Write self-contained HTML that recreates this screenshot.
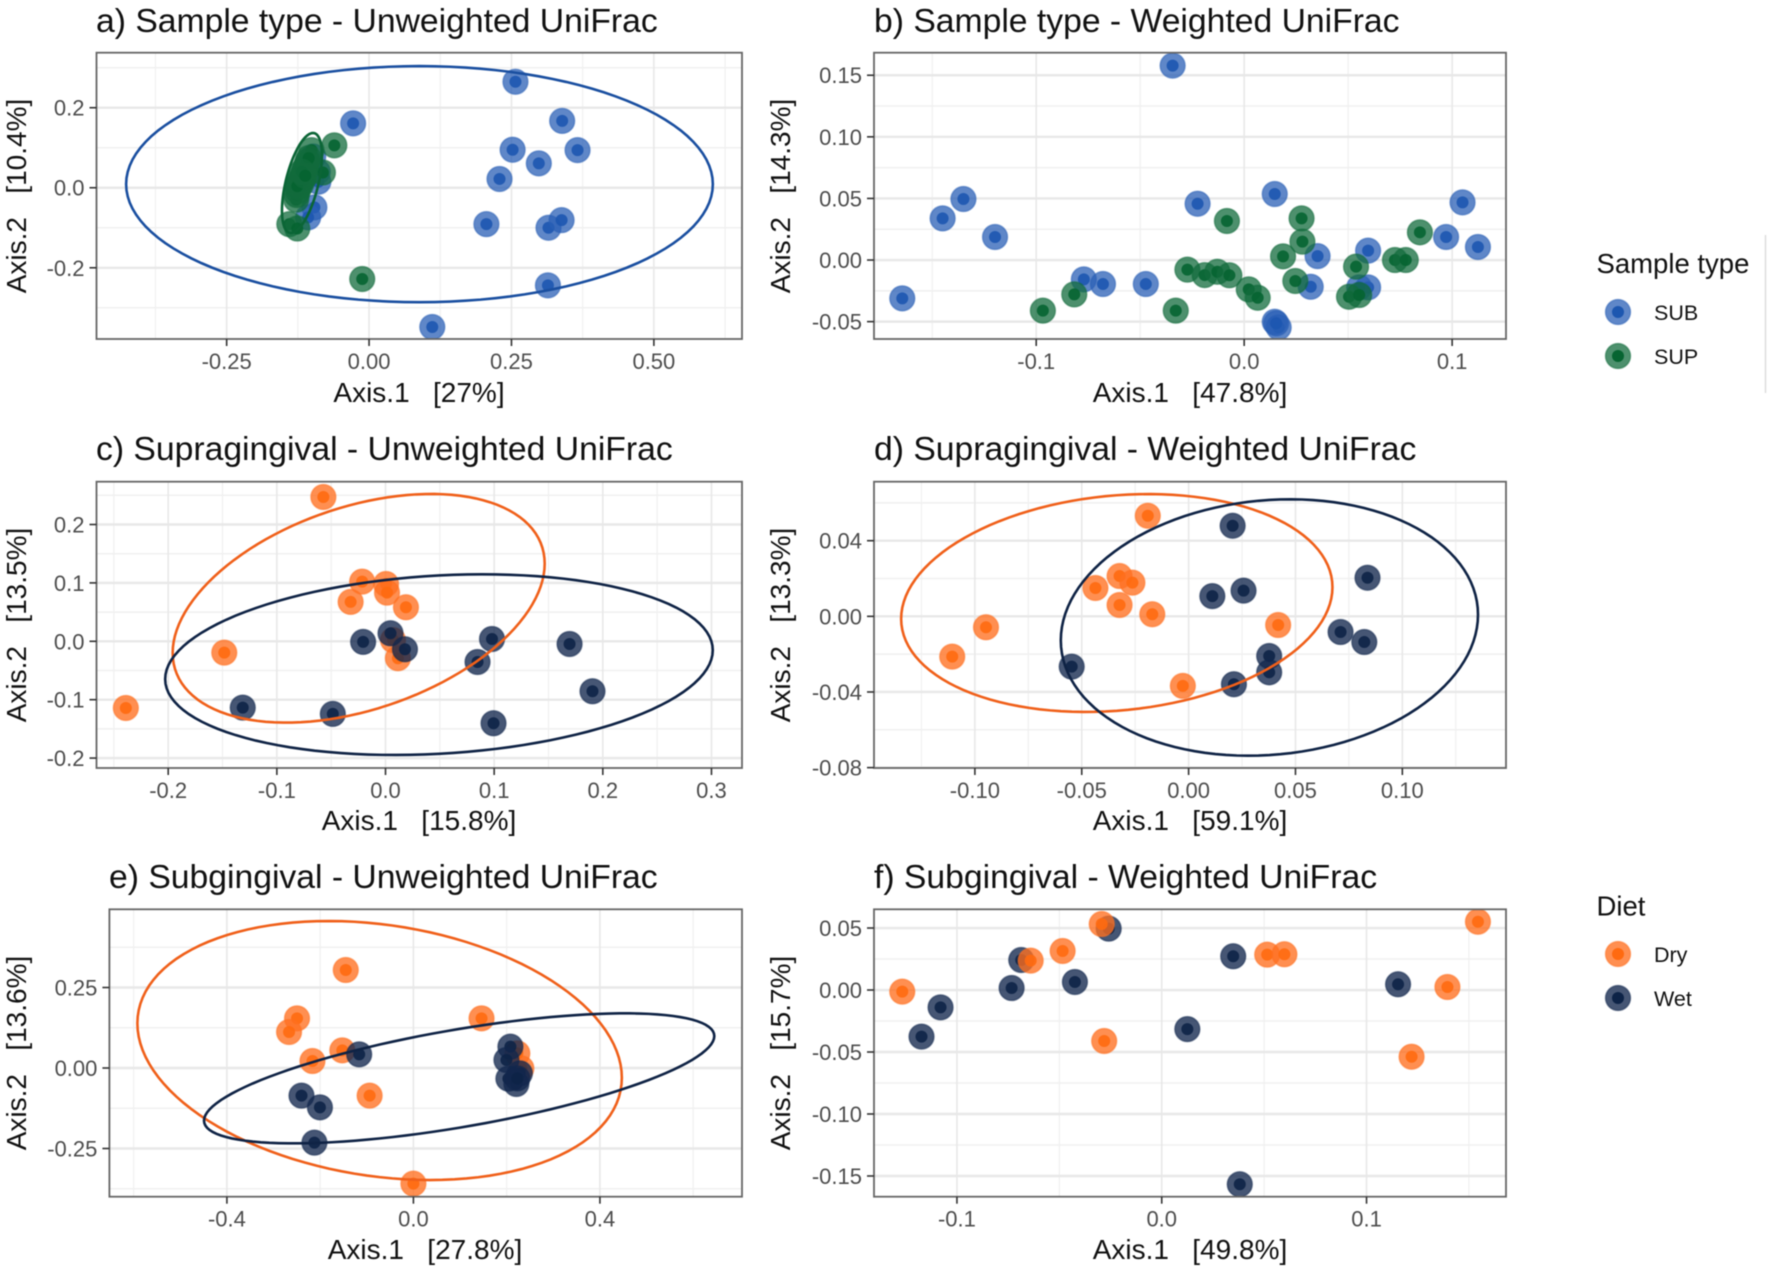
<!DOCTYPE html>
<html lang="en">
<head>
<meta charset="utf-8">
<title>Unweighted and Weighted UniFrac ordinations by sample type and diet</title>
<style>
  html, body { margin: 0; padding: 0; background: #fff; }
  body { width: 1772px; height: 1270px; overflow: hidden; }
  svg { display: block; filter: blur(0.65px); font-family: "Liberation Sans", Arial, sans-serif; }
  text { white-space: pre; }
  .title { font-size: 33.7px; fill: #111; }
  .axis-title { font-size: 28px; fill: #111; text-anchor: middle; }
  .tick-label { font-size: 22px; fill: #4d4d4d; }
  .legend-title { font-size: 27.5px; fill: #111; }
  .legend-label { font-size: 21.5px; fill: #111; }
</style>
</head>
<body>
<svg id="chart" xmlns="http://www.w3.org/2000/svg" width="1772" height="1270" viewBox="0 0 1772 1270">
  <rect x="0" y="0" width="1772" height="1270" fill="#ffffff"/>

  <g id="panels"></g>

  <text class="title" x="96" y="32">a) Sample type - Unweighted UniFrac</text>
  <text class="title" x="874" y="32">b) Sample type - Weighted UniFrac</text>
  <text class="title" x="96" y="460">c) Supragingival - Unweighted UniFrac</text>
  <text class="title" x="874" y="460">d) Supragingival - Weighted UniFrac</text>
  <text class="title" x="109" y="888">e) Subgingival - Unweighted UniFrac</text>
  <text class="title" x="874" y="888">f) Subgingival - Weighted UniFrac</text>

  <text class="axis-title" x="419" y="402">Axis.1   [27%]</text>
  <text class="axis-title" x="1190" y="402">Axis.1   [47.8%]</text>
  <text class="axis-title" x="419" y="830">Axis.1   [15.8%]</text>
  <text class="axis-title" x="1190" y="830">Axis.1   [59.1%]</text>
  <text class="axis-title" x="425" y="1259">Axis.1   [27.8%]</text>
  <text class="axis-title" x="1190" y="1259">Axis.1   [49.8%]</text>

  <text class="axis-title" transform="translate(26 196) rotate(-90)">Axis.2   [10.4%]</text>
  <text class="axis-title" transform="translate(790 196) rotate(-90)">Axis.2   [14.3%]</text>
  <text class="axis-title" transform="translate(26 625) rotate(-90)">Axis.2   [13.5%]</text>
  <text class="axis-title" transform="translate(790 625) rotate(-90)">Axis.2   [13.3%]</text>
  <text class="axis-title" transform="translate(26 1053) rotate(-90)">Axis.2   [13.6%]</text>
  <text class="axis-title" transform="translate(790 1053) rotate(-90)">Axis.2   [15.7%]</text>

  <g>
    <text class="legend-title" x="1596.5" y="273">Sample type</text>
    <g>
      <circle cx="1618" cy="312" r="12.5" fill="#2a5fb5" fill-opacity="0.75" stroke="#2a5fb5" stroke-opacity="0.5" stroke-width="1.5"/>
      <circle cx="1618" cy="312" r="6" fill="#1d57b0"/>
      <text class="legend-label" x="1654" y="320">SUB</text>
    </g>
    <g>
      <circle cx="1618" cy="356" r="12.5" fill="#116b3c" fill-opacity="0.75" stroke="#116b3c" stroke-opacity="0.5" stroke-width="1.5"/>
      <circle cx="1618" cy="356" r="6" fill="#066431"/>
      <text class="legend-label" x="1654" y="364">SUP</text>
    </g>
  </g>
  <line x1="1765.5" y1="235" x2="1765.5" y2="393" stroke="#dddddd" stroke-width="1.5"/>

  <g>
    <text class="legend-title" x="1596.5" y="915.5">Diet</text>
    <g>
      <circle cx="1618" cy="954" r="12.5" fill="#ff7020" fill-opacity="0.78" stroke="#ff7020" stroke-opacity="0.5" stroke-width="1.5"/>
      <circle cx="1618" cy="954" r="6" fill="#ff6a10"/>
      <text class="legend-label" x="1654" y="962">Dry</text>
    </g>
    <g>
      <circle cx="1618" cy="998" r="12.5" fill="#12274d" fill-opacity="0.78" stroke="#12274d" stroke-opacity="0.5" stroke-width="1.5"/>
      <circle cx="1618" cy="998" r="6" fill="#0d2347"/>
      <text class="legend-label" x="1654" y="1006">Wet</text>
    </g>
  </g>
</svg>

<script>
// ---------- tick values and labels ----------
const aXTicks = [-0.25, 0, 0.25, 0.5];
const aXLabels = ['-0.25', '0.00', '0.25', '0.50'];
const aYTicks = [-0.2, 0, 0.2];
const aYLabels = ['-0.2', '0.0', '0.2'];
const bXTicks = [-0.1, 0, 0.1];
const bXLabels = ['-0.1', '0.0', '0.1'];
const bYTicks = [-0.05, 0, 0.05, 0.1, 0.15];
const bYLabels = ['-0.05', '0.00', '0.05', '0.10', '0.15'];
const cXTicks = [-0.2, -0.1, 0, 0.1, 0.2, 0.3];
const cXLabels = ['-0.2', '-0.1', '0.0', '0.1', '0.2', '0.3'];
const cYTicks = [-0.2, -0.1, 0, 0.1, 0.2];
const cYLabels = ['-0.2', '-0.1', '0.0', '0.1', '0.2'];
const dXTicks = [-0.1, -0.05, 0, 0.05, 0.1];
const dXLabels = ['-0.10', '-0.05', '0.00', '0.05', '0.10'];
const dYTicks = [-0.08, -0.04, 0, 0.04];
const dYLabels = ['-0.08', '-0.04', '0.00', '0.04'];
const eXTicks = [-0.4, 0, 0.4];
const eXLabels = ['-0.4', '0.0', '0.4'];
const eYTicks = [-0.25, 0, 0.25];
const eYLabels = ['-0.25', '0.00', '0.25'];
const fXTicks = [-0.1, 0, 0.1];
const fXLabels = ['-0.1', '0.0', '0.1'];
const fYTicks = [-0.15, -0.1, -0.05, 0, 0.05];
const fYLabels = ['-0.15', '-0.10', '-0.05', '0.00', '0.05'];

// ---------- panel a: sample type, unweighted ----------
const aSubX = [-0.028, 0.257, 0.339, 0.252, 0.366, 0.298, 0.229, 0.206, 0.315, 0.338, 0.314, 0.111, -0.098, -0.089, -0.096, -0.107, -0.09];
const aSubY = [0.161, 0.265, 0.167, 0.095, 0.094, 0.061, 0.022, -0.091, -0.1, -0.081, -0.244, -0.348, 0.078, 0.015, -0.049, -0.074, 0.04];
const aSupX = [-0.101, -0.081, -0.14, -0.126, -0.061, -0.012, -0.128, -0.127, -0.125, -0.124, -0.122, -0.12, -0.118, -0.116, -0.114, -0.112, -0.11, -0.108, -0.106, -0.124, -0.12, -0.116, -0.126, -0.118, -0.112];
const aSupY = [0.094, 0.038, -0.091, -0.102, 0.106, -0.228, -0.03, -0.018, -0.008, 0.002, 0.01, 0.018, 0.026, 0.034, 0.042, 0.05, 0.058, 0.066, 0.074, 0.014, 0.006, 0.02, 0.004, 0.04, 0.03];
const aSubEllipse = [0.0885, 0.009, 0.515, 0.295, 0];
const aSupEllipse = [-0.1178, 0.0118, 0.0351, 0.125, 0.55];

// ---------- panel b: sample type, weighted ----------
const bSubX = [-0.0344, -0.1644, -0.145, -0.135, -0.1198, -0.0771, -0.0679, -0.0473, -0.0224, 0.0147, 0.032, 0.0353, 0.0596, 0.0596, 0.0553, 0.0971, 0.105, 0.1124, 0.0147, 0.0166, 0.0154];
const bSubY = [0.1578, -0.0311, 0.0338, 0.0495, 0.0187, -0.0157, -0.0195, -0.0195, 0.0457, 0.0536, -0.0217, 0.0032, 0.0076, -0.0222, -0.0222, 0.0187, 0.0468, 0.0106, -0.0501, -0.0547, -0.0514];
const bSupX = [-0.0968, -0.0817, -0.0329, -0.0273, -0.019, -0.0129, -0.0071, -0.0083, 0.0022, 0.0065, 0.0187, 0.0246, 0.028, 0.0276, 0.0538, 0.0504, 0.0553, 0.0725, 0.0777, 0.0845];
const bSupY = [-0.0411, -0.0279, -0.0411, -0.0078, -0.0122, -0.0095, -0.0124, 0.0317, -0.0238, -0.0306, 0.003, -0.017, 0.0149, 0.0338, -0.0054, -0.0298, -0.0284, 0, 0, 0.0225];

// ---------- panel c: supragingival, unweighted ----------
const cDryX = [-0.0572, -0.239, -0.1484, -0.0215, 0.0005, 0.0014, -0.0321, 0.0188, 0.0069, 0.0114];
const cDryY = [0.2471, -0.1142, -0.0194, 0.1022, 0.0982, 0.0833, 0.0674, 0.0582, 0.002, -0.029];
const cWetX = [-0.1314, -0.0485, -0.0206, 0.0046, 0.0179, 0.0847, 0.098, 0.0994, 0.1694, 0.1905];
const cWetY = [-0.1136, -0.1244, -0.0011, 0.0137, -0.0137, -0.0354, 0.004, -0.1404, -0.0046, -0.0856];
const cDryEllipse = [-0.0247, 0.0565, 0.1712, 0.1958, 0.39];
const cWetEllipse = [0.0492, -0.04, 0.252, 0.1547, 0.16];

// ---------- panel d: supragingival, weighted ----------
const dDryX = [-0.0191, -0.0948, -0.1106, -0.0436, -0.0323, -0.0263, -0.0323, -0.017, 0.0419, -0.0027];
const dDryY = [0.0532, -0.0058, -0.0213, 0.015, 0.0213, 0.0178, 0.006, 0.0011, -0.0046, -0.0368];
const dWetX = [0.0206, 0.0111, 0.0257, 0.0837, 0.0711, 0.0822, 0.0377, 0.0377, 0.0212, -0.0547];
const dWetY = [0.0479, 0.0107, 0.0136, 0.0204, -0.0083, -0.0136, -0.021, -0.0296, -0.0359, -0.0266];
const dDryEllipse = [-0.0336, 0.00705, 0.1009, 0.0576, 0.145];
const dWetEllipse = [0.0378, -0.0059, 0.0976, 0.0678, 0.1];

// ---------- panel e: subgingival, unweighted ----------
const eDryX = [-0.1451, -0.2496, -0.2667, -0.2165, -0.1525, -0.0939, 0.1461, 0, 0.2315, 0.2229];
const eDryY = [0.3043, 0.1542, 0.1118, 0.0217, 0.0549, -0.0859, 0.1542, -0.3592, -0.001, 0.0455];
const eWetX = [-0.1163, -0.24, -0.2005, -0.2123, 0.208, 0.1995, 0.2283, 0.2037, 0.2208, 0.2229];
const eWetY = [0.0424, -0.0859, -0.1222, -0.2319, 0.0663, 0.0248, -0.0166, -0.0331, -0.0497, -0.0321];
const eDryEllipse = [-0.0725, 0.0543, 0.5195, 0.4022, -0.21];
const eWetEllipse = [0.0981, -0.0321, 0.5472, 0.2019, 0.65];

// ---------- panel f: subgingival, weighted ----------
const fDryX = [-0.1267, -0.064, -0.0484, -0.0293, -0.0281, 0.0515, 0.0599, 0.122, 0.1395, 0.1544];
const fDryY = [-0.0013, 0.0237, 0.0315, 0.0532, -0.0411, 0.0285, 0.0288, -0.0538, 0.0024, 0.0551];
const fWetX = [-0.1173, -0.108, -0.0733, -0.0686, -0.0424, -0.0259, 0.0125, 0.0349, 0.0381, 0.1154];
const fWetY = [-0.0376, -0.014, 0.0016, 0.0242, 0.0065, 0.0495, -0.0315, 0.0272, -0.1567, 0.0046];

// ---------- axis domains ----------
const aXDomain = [-0.4785, 0.6547];
const aYDomain = [-0.378, 0.3375];
const bXDomain = [-0.178, 0.1259];
const bYDomain = [-0.0641, 0.1683];
const cXDomain = [-0.266, 0.3281];
const cYDomain = [-0.217, 0.2733];
const dXDomain = [-0.1472, 0.1485];
const dYDomain = [-0.0802, 0.0712];
const eXDomain = [-0.652, 0.7047];
const eYDomain = [-0.3997, 0.4929];
const fXDomain = [-0.1405, 0.1681];
const fYDomain = [-0.1667, 0.0651];

const SVG_NS = 'http://www.w3.org/2000/svg';
const STYLE = {
  sub: { name: 'sub', outer: '#2a5fb5', inner: '#1d57b0', line: '#1a4fa0', alpha: 0.75 },
  sup: { name: 'sup', outer: '#116b3c', inner: '#066431', line: '#0b6536', alpha: 0.75 },
  dry: { name: 'dry', outer: '#ff7020', inner: '#ff6a10', line: '#f0601a', alpha: 0.78 },
  wet: { name: 'wet', outer: '#12274d', inner: '#0d2347', line: '#0f2345', alpha: 0.78 }
};

const panels = [
  { id: 'a', left: 96.5, top: 52.7, right: 742, bottom: 339, xDomain: aXDomain, yDomain: aYDomain,
    xTicks: aXTicks, xLabels: aXLabels, yTicks: aYTicks, yLabels: aYLabels,
    series: [{ s: STYLE.sub, x: aSubX, y: aSubY }, { s: STYLE.sup, x: aSupX, y: aSupY }],
    ellipses: [{ s: STYLE.sub, e: aSubEllipse }, { s: STYLE.sup, e: aSupEllipse }] },
  { id: 'b', left: 874, top: 52.7, right: 1506, bottom: 339, xDomain: bXDomain, yDomain: bYDomain,
    xTicks: bXTicks, xLabels: bXLabels, yTicks: bYTicks, yLabels: bYLabels,
    series: [{ s: STYLE.sub, x: bSubX, y: bSubY }, { s: STYLE.sup, x: bSupX, y: bSupY }],
    ellipses: [] },
  { id: 'c', left: 96.5, top: 481.7, right: 742, bottom: 768, xDomain: cXDomain, yDomain: cYDomain,
    xTicks: cXTicks, xLabels: cXLabels, yTicks: cYTicks, yLabels: cYLabels,
    series: [{ s: STYLE.dry, x: cDryX, y: cDryY }, { s: STYLE.wet, x: cWetX, y: cWetY }],
    ellipses: [{ s: STYLE.dry, e: cDryEllipse }, { s: STYLE.wet, e: cWetEllipse }] },
  { id: 'd', left: 874, top: 481.7, right: 1506, bottom: 768, xDomain: dXDomain, yDomain: dYDomain,
    xTicks: dXTicks, xLabels: dXLabels, yTicks: dYTicks, yLabels: dYLabels,
    series: [{ s: STYLE.dry, x: dDryX, y: dDryY }, { s: STYLE.wet, x: dWetX, y: dWetY }],
    ellipses: [{ s: STYLE.dry, e: dDryEllipse }, { s: STYLE.wet, e: dWetEllipse }] },
  { id: 'e', left: 109.4, top: 909.3, right: 742, bottom: 1196.7, xDomain: eXDomain, yDomain: eYDomain,
    xTicks: eXTicks, xLabels: eXLabels, yTicks: eYTicks, yLabels: eYLabels,
    series: [{ s: STYLE.dry, x: eDryX, y: eDryY }, { s: STYLE.wet, x: eWetX, y: eWetY }],
    ellipses: [{ s: STYLE.dry, e: eDryEllipse }, { s: STYLE.wet, e: eWetEllipse }] },
  { id: 'f', left: 874, top: 909.3, right: 1506, bottom: 1196.7, xDomain: fXDomain, yDomain: fYDomain,
    xTicks: fXTicks, xLabels: fXLabels, yTicks: fYTicks, yLabels: fYLabels,
    series: [{ s: STYLE.wet, x: fWetX, y: fWetY }, { s: STYLE.dry, x: fDryX, y: fDryY }],
    ellipses: [] }
];

function make(tag, attrs, parent) {
  const el = document.createElementNS(SVG_NS, tag);
  for (const k in attrs) el.setAttribute(k, attrs[k]);
  parent.appendChild(el);
  return el;
}

function minorTicks(ticks, domain) {
  const step = ticks[1] - ticks[0];
  const out = [];
  for (let v = ticks[0] - step / 2; v >= domain[0]; v -= step) out.push(v);
  for (let v = ticks[0] + step / 2; v <= domain[1]; v += step) out.push(v);
  return out;
}

const root = document.getElementById('panels');

panels.forEach(function (p) {
  const sx = function (v) { return p.left + (v - p.xDomain[0]) / (p.xDomain[1] - p.xDomain[0]) * (p.right - p.left); };
  const sy = function (v) { return p.bottom - (v - p.yDomain[0]) / (p.yDomain[1] - p.yDomain[0]) * (p.bottom - p.top); };

  const panel = make('g', {}, root);
  
  

  const clip = make('clipPath', { id: 'clip-' + p.id }, panel);
  make('rect', { x: p.left, y: p.top, width: p.right - p.left, height: p.bottom - p.top }, clip);

  const grid = make('g', {}, panel);
  
  

  minorTicks(p.xTicks, p.xDomain).forEach(function (v) {
    const l = make('line', { x1: sx(v), x2: sx(v), y1: p.top, y2: p.bottom, stroke: '#f0f0f0', 'stroke-width': 1.2 }, grid);
    
    
  });
  minorTicks(p.yTicks, p.yDomain).forEach(function (v) {
    const l = make('line', { x1: p.left, x2: p.right, y1: sy(v), y2: sy(v), stroke: '#f0f0f0', 'stroke-width': 1.5 }, grid);
    
    
  });
  p.xTicks.forEach(function (v) {
    const l = make('line', { x1: sx(v), x2: sx(v), y1: p.top, y2: p.bottom, stroke: '#e8e8e8', 'stroke-width': 1.6 }, grid);
    
    
  });
  p.yTicks.forEach(function (v) {
    const l = make('line', { x1: p.left, x2: p.right, y1: sy(v), y2: sy(v), stroke: '#e8e8e8', 'stroke-width': 2.4 }, grid);
    
    
  });

  const plot = make('g', { 'clip-path': 'url(#clip-' + p.id + ')' }, panel);
  
  

  p.series.forEach(function (g) {
    const group = make('g', {}, plot);
    
    
    g.x.forEach(function (xv, i) {
      const cx = sx(xv);
      const cy = sy(g.y[i]);
      const point = make('g', {}, group);
      
      
      make('circle', { cx: cx, cy: cy, r: 12.5, fill: g.s.outer, 'fill-opacity': g.s.alpha, stroke: g.s.outer, 'stroke-opacity': 0.5, 'stroke-width': 1.5 }, point);
      make('circle', { cx: cx, cy: cy, r: 6, fill: g.s.inner, 'fill-opacity': 0.9 }, point);
    });
  });

  p.ellipses.forEach(function (item) {
    const cxv = item.e[0], cyv = item.e[1], hx = item.e[2], hy = item.e[3], r = item.e[4];
    const q = Math.sqrt(1 - r * r);
    let d = '';
    for (let k = 0; k <= 120; k++) {
      const t = k / 120 * 2 * Math.PI;
      const xv = cxv + hx * Math.cos(t);
      const yv = cyv + hy * (r * Math.cos(t) + q * Math.sin(t));
      d += (k ? 'L' : 'M') + sx(xv).toFixed(2) + ' ' + sy(yv).toFixed(2);
    }
    const path = make('path', { d: d + 'Z', fill: 'none', stroke: item.s.line, 'stroke-width': 2.6 }, plot);
    
    
  });

  const border = make('rect', { x: p.left, y: p.top, width: p.right - p.left, height: p.bottom - p.top, fill: 'none', stroke: '#666666', 'stroke-width': 1.8 }, panel);
  
  

  const xAxis = make('g', {}, panel);
  
  
  p.xTicks.forEach(function (v, i) {
    const tick = make('line', { x1: sx(v), x2: sx(v), y1: p.bottom, y2: p.bottom + 7, stroke: '#333333', 'stroke-width': 1.6 }, xAxis);
    
    
    const label = make('text', { x: sx(v), y: p.bottom + 30, class: 'tick-label', 'text-anchor': 'middle' }, xAxis);
    label.textContent = p.xLabels[i];
    
    
  });

  const yAxis = make('g', {}, panel);
  
  
  p.yTicks.forEach(function (v, i) {
    const tick = make('line', { x1: p.left - 7, x2: p.left, y1: sy(v), y2: sy(v), stroke: '#333333', 'stroke-width': 1.6 }, yAxis);
    
    
    const label = make('text', { x: p.left - 12, y: sy(v) + 8, class: 'tick-label', 'text-anchor': 'end' }, yAxis);
    label.textContent = p.yLabels[i];
    
    
  });
});
</script>
</body>
</html>
